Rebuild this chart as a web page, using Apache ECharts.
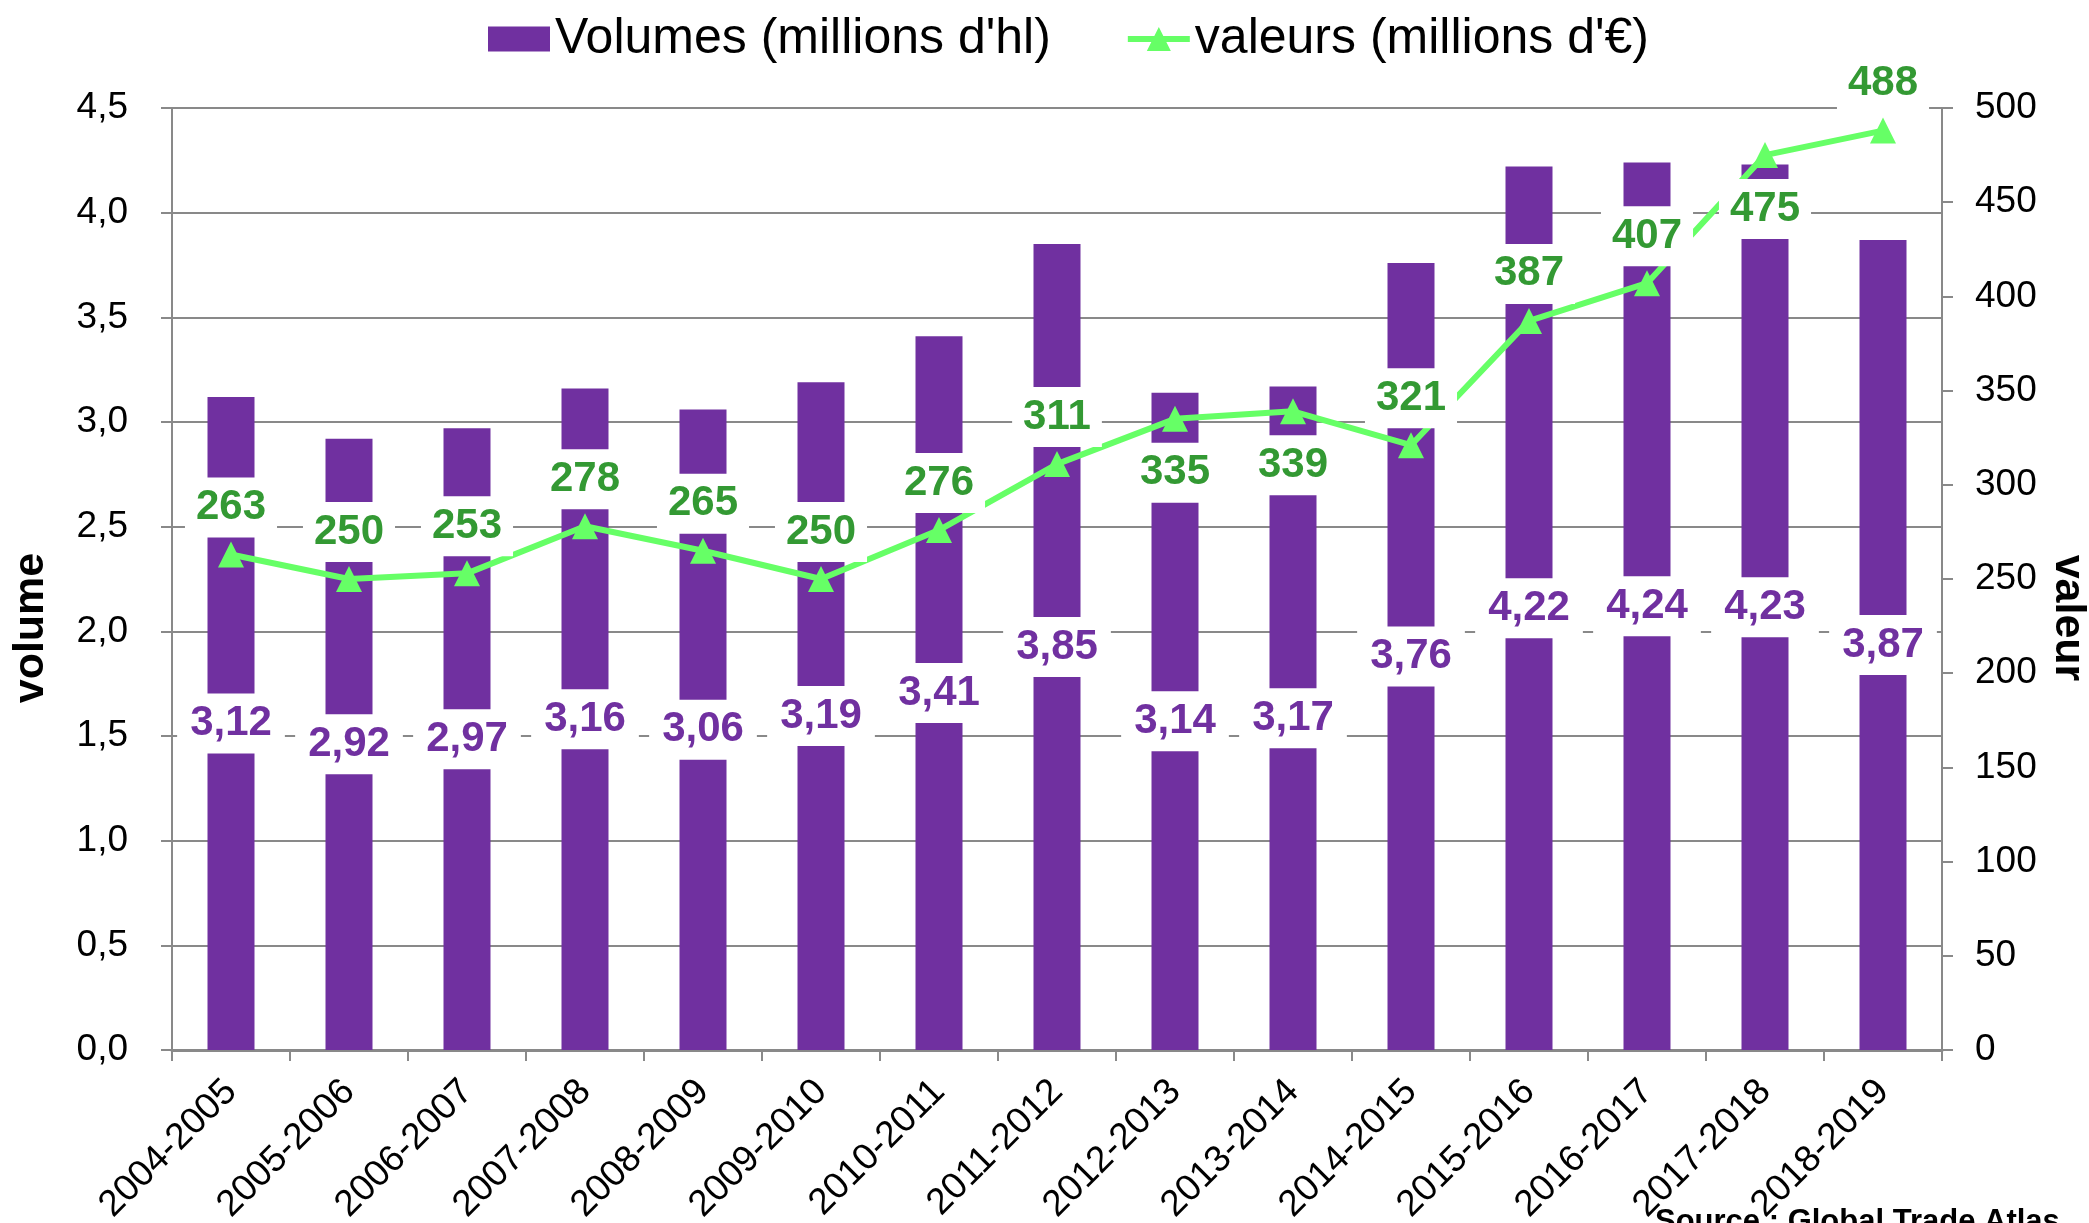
<!DOCTYPE html>
<html>
<head>
<meta charset="utf-8">
<title>Volumes et valeurs</title>
<script src="https://cdn.jsdelivr.net/npm/echarts@6/dist/echarts.min.js"></script>
<style>
  html, body { margin: 0; padding: 0; background: #fff; }
  #chart { width: 2089px; height: 1223px; }
</style>
</head>
<body>
<div id="chart"></div>
<script>
  // campagnes
  var categories = ['2004-2005', '2005-2006', '2006-2007', '2007-2008', '2008-2009',
    '2009-2010', '2010-2011', '2011-2012', '2012-2013', '2013-2014',
    '2014-2015', '2015-2016', '2016-2017', '2017-2018', '2018-2019'];
  // volumes en millions d'hl
  var volumes = [3.12, 2.92, 2.97, 3.16, 3.06, 3.19, 3.41, 3.85, 3.14, 3.17, 3.76, 4.22, 4.24, 4.23, 3.87];
  // valeurs en millions d'€
  var valeurs = [263, 250, 253, 278, 265, 250, 276, 311, 335, 339, 321, 387, 407, 475, 488];
  // etiquettes placees sous le point
  var labelsBelow = [8, 9, 13];

  var FONT = "'Liberation Sans', Arial, Helvetica, sans-serif";
  var GRAY = '#898989';
  var PURPLE = '#7030A0';
  var GREEN = '#66FF66';

  function virgule(v, d) {
    return Number(v).toFixed(d).replace('.', ',');
  }

  var valeursData = valeurs.map(function (v, i) {
    if (labelsBelow.indexOf(i) >= 0) {
      return { value: v, label: { position: 'bottom', distance: 11 } };
    }
    return v;
  });

  var chart = echarts.init(document.getElementById('chart'));

  chart.setOption({
    animation: false,
    textStyle: { fontFamily: FONT },
    legend: {
      left: 483,
      top: 9,
      itemWidth: 62,
      itemHeight: 25,
      itemGap: 77,
      textStyle: { fontSize: 50, color: '#000', fontFamily: FONT },
      data: [
        { name: "Volumes (millions d'hl)", icon: 'rect' },
        // trait + triangle comme dans la legende Excel (meme sens de trace)
        {
          name: "valeurs (millions d'€)",
          icon: 'path://M0 10L62 10L62 16L0 16Z M19 25L31 1L43 25Z',
          itemStyle: { color: GREEN, borderWidth: 0 }
        }
      ]
    },
    grid: { left: 172, right: 147, top: 108, bottom: 173, outerBoundsMode: 'none' },
    xAxis: {
      type: 'category',
      data: categories,
      axisLine: { lineStyle: { color: GRAY, width: 3 } },
      axisTick: { show: true, length: 11, lineStyle: { color: GRAY, width: 2 } },
      axisLabel: {
        rotate: 45, margin: 36, interval: 0,
        fontSize: 37, color: '#000', fontFamily: FONT
      }
    },
    yAxis: [
      {
        type: 'value', min: 0, max: 4.5, interval: 0.5,
        axisLine: { show: true, lineStyle: { color: GRAY, width: 2 } },
        axisTick: { show: true, length: 11, lineStyle: { color: GRAY, width: 2 } },
        splitLine: { lineStyle: { color: GRAY, width: 2 } },
        axisLabel: {
          margin: 44, fontSize: 37, color: '#000', fontFamily: FONT,
          formatter: function (v) { return virgule(v, 1); }
        }
      },
      {
        type: 'value', min: 0, max: 500, interval: 50,
        position: 'right',
        axisLine: { show: true, lineStyle: { color: GRAY, width: 2 } },
        axisTick: { show: true, length: 11, lineStyle: { color: GRAY, width: 2 } },
        splitLine: { show: false },
        axisLabel: { margin: 33, fontSize: 37, color: '#000', fontFamily: FONT }
      }
    ],
    graphic: [
      {
        type: 'text', x: 31, y: 628, rotation: Math.PI / 2,
        style: {
          text: 'volume', fill: '#000', align: 'center', verticalAlign: 'middle',
          font: 'bold 43px ' + FONT
        }
      },
      {
        type: 'text', x: 2068, y: 618, rotation: -Math.PI / 2,
        style: {
          text: 'valeur', fill: '#000', align: 'center', verticalAlign: 'middle',
          font: 'bold 43px ' + FONT
        }
      },
      {
        type: 'text', x: 1655, y: 1207,
        style: {
          text: 'Source : Global Trade Atlas', fill: '#000', align: 'left', verticalAlign: 'top',
          font: 'bold 31px ' + FONT
        }
      }
    ],
    series: [
      {
        name: "Volumes (millions d'hl)",
        type: 'bar',
        yAxisIndex: 0,
        data: volumes,
        barWidth: 47,
        itemStyle: { color: PURPLE },
        label: {
          show: true,
          position: 'inside',
          color: PURPLE,
          fontSize: 42,
          fontWeight: 'bold',
          fontFamily: FONT,
          lineHeight: 48,
          backgroundColor: '#fff',
          padding: [6, 13],
          formatter: function (p) { return virgule(p.value, 2); }
        }
      },
      {
        name: "valeurs (millions d'€)",
        type: 'line',
        yAxisIndex: 1,
        data: valeursData,
        symbol: 'triangle',
        symbolSize: 26,
        lineStyle: { color: GREEN, width: 6 },
        itemStyle: { color: GREEN },
        label: {
          show: true,
          position: 'top',
          distance: 4,
          color: '#339933',
          fontSize: 42,
          fontWeight: 'bold',
          fontFamily: FONT,
          lineHeight: 48,
          backgroundColor: '#fff',
          padding: [6, 11]
        }
      }
    ]
  });
</script>
</body>
</html>
